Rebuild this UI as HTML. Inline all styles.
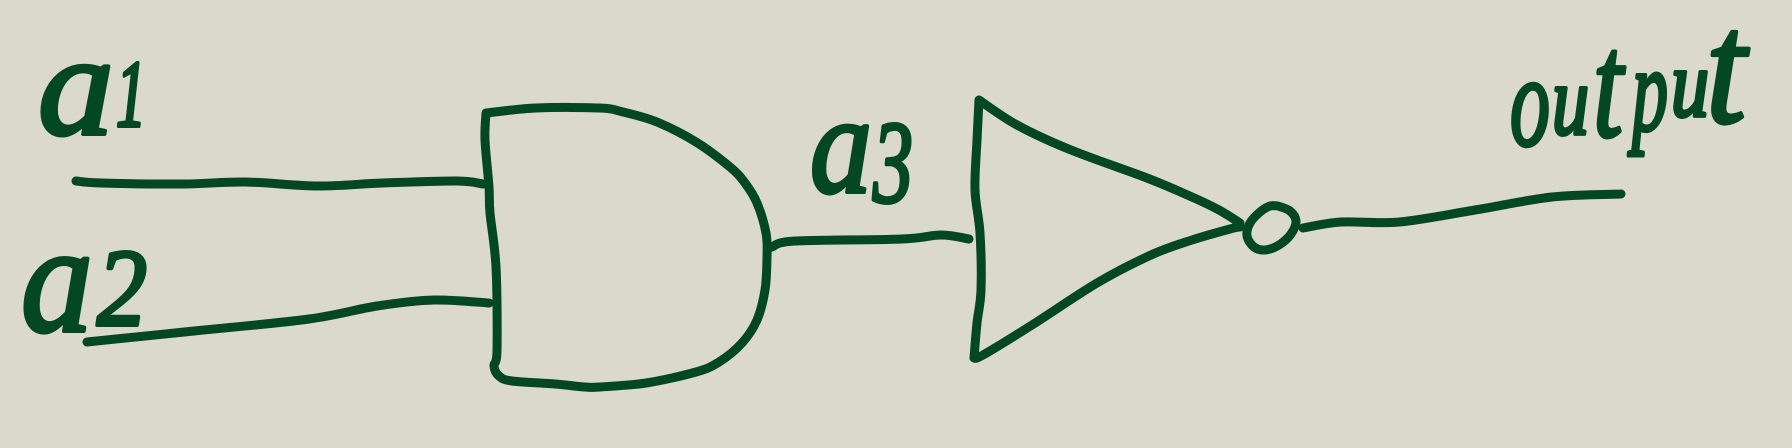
<!DOCTYPE html>
<html lang="en">
<head>
<meta charset="utf-8">
<title>Hand-drawn NAND logic diagram</title>
<style>
html,body{margin:0;padding:0;width:1792px;height:448px;overflow:hidden;background:#dbd9cb}
svg{display:block}
.stroke{fill:none;stroke:#044723;stroke-width:9;stroke-linecap:round;stroke-linejoin:round}
.label{font-family:"Liberation Serif",serif;font-style:italic;fill:#044723;stroke:#044723;stroke-width:4;stroke-linejoin:round}
</style>
</head>
<body>
<svg width="1792" height="448" viewBox="0 0 1792 448">
  <rect width="1792" height="448" fill="#dbd9cb"/>

  <text class="label"><tspan x="38" y="134" font-size="145" textLength="76" lengthAdjust="spacingAndGlyphs">a</tspan><tspan x="116" y="126" font-size="95" textLength="30" lengthAdjust="spacingAndGlyphs">1</tspan></text>
  <text class="label"><tspan x="21" y="331" font-size="155" textLength="72" lengthAdjust="spacingAndGlyphs">a</tspan><tspan x="97" y="325" font-size="110" textLength="50" lengthAdjust="spacingAndGlyphs">2</tspan></text>
  <text class="label"><tspan x="810" y="192" font-size="141" textLength="62" lengthAdjust="spacingAndGlyphs">a</tspan><tspan x="873" y="202" font-size="118" textLength="40" lengthAdjust="spacingAndGlyphs">3</tspan></text>
  <text class="label"><tspan x="1510" y="145" font-size="130" textLength="40" lengthAdjust="spacingAndGlyphs">o</tspan><tspan x="1552" y="134" font-size="100" textLength="37" lengthAdjust="spacingAndGlyphs">u</tspan><tspan x="1593" y="136" font-size="150" textLength="30" lengthAdjust="spacingAndGlyphs">t</tspan><tspan x="1632" y="130" font-size="120" textLength="36" lengthAdjust="spacingAndGlyphs">p</tspan><tspan x="1671" y="116" font-size="95" textLength="38" lengthAdjust="spacingAndGlyphs">u</tspan><tspan x="1706" y="122" font-size="160" textLength="40" lengthAdjust="spacingAndGlyphs">t</tspan></text>

  <path id="wire-a1" class="stroke"/>
  <path id="wire-a2" class="stroke"/>
  <path id="and-gate" class="stroke"/>
  <path id="wire-a3" class="stroke"/>
  <path id="inverter" class="stroke"/>
  <path id="bubble" class="stroke"/>
  <path id="wire-output" class="stroke"/>
</svg>
<script>
var wireA1 = [[76,181],[101,183],[184,184],[245,182],[318,186],[383,183],[457,181],[483,184]];
var wireA2 = [[87,342],[194,331],[309,319],[377,306],[434,300],[489,303]];
var andGate = [[486,113],[536,108],[600,108],[623,112],[657,122],[696,142],[730,167],[745,183],[757,203],[766,233],[767,257],[765,290],[757,320],[742,343],[719,362],[696,372],[646,383],[600,387],[585,387],[555,384],[512,381],[499,376],[494,366],[497,350],[496,267],[490,213],[489,187],[485,140],[486,113]];
var wireA3 = [[772,247],[795,241],[902,239],[941,235],[969,239]];
var inverterTop = [[979,100],[1017,125],[1071,150],[1147,178],[1192,197],[1219,210],[1240,223]];
var inverterBottom = [[1240,227],[1230,229],[1192,240],[1151,255],[1097,283],[1032,325],[983,355],[974,358]];
var inverterBack = [[974,358],[977,323],[981,290],[980,233],[975,190],[977,140],[979,100]];
var bubblePoints = [[1278,206],[1290,211],[1296,221],[1291,234],[1279,245],[1265,250],[1254,247],[1247,236],[1250,223],[1260,212],[1270,206],[1278,206]];
var wireOutput = [[1303,228],[1341,222],[1399,222],[1475,210],[1552,197],[1621,194]];

function smooth(points) {
  var d = 'M' + points[0][0] + ' ' + points[0][1];
  for (var i = 0; i < points.length - 1; i++) {
    var p0 = points[i - 1] || points[i];
    var p1 = points[i];
    var p2 = points[i + 1];
    var p3 = points[i + 2] || p2;
    d += ' C' + (p1[0] + (p2[0] - p0[0]) / 6).toFixed(1) + ' ' + (p1[1] + (p2[1] - p0[1]) / 6).toFixed(1) +
         ' ' + (p2[0] - (p3[0] - p1[0]) / 6).toFixed(1) + ' ' + (p2[1] - (p3[1] - p1[1]) / 6).toFixed(1) +
         ' ' + p2[0] + ' ' + p2[1];
  }
  return d;
}
document.getElementById('wire-a1').setAttribute('d', smooth(wireA1));
document.getElementById('wire-a2').setAttribute('d', smooth(wireA2));
document.getElementById('and-gate').setAttribute('d', smooth(andGate));
document.getElementById('wire-a3').setAttribute('d', smooth(wireA3));
document.getElementById('inverter').setAttribute('d', smooth(inverterTop) + ' ' + smooth(inverterBottom) + ' ' + smooth(inverterBack));
document.getElementById('bubble').setAttribute('d', smooth(bubblePoints));
document.getElementById('wire-output').setAttribute('d', smooth(wireOutput));
</script>
</body>
</html>
